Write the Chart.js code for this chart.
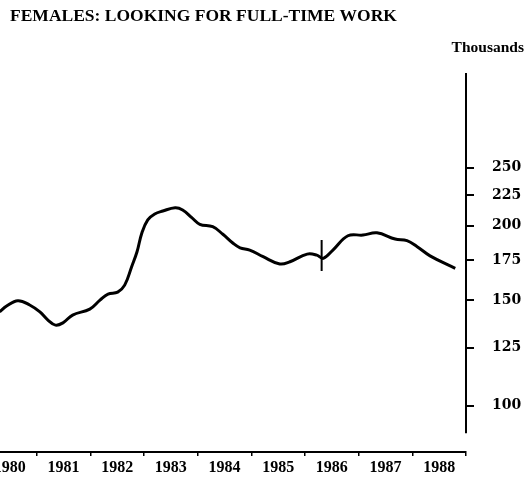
<!DOCTYPE html>
<html>
<head>
<meta charset="utf-8">
<script src="https://cdn.jsdelivr.net/npm/chart.js@4.4.1/dist/chart.umd.min.js"></script>
<style>
  html, body { margin: 0; padding: 0; background: #fff; overflow: hidden; }
  body { width: 527px; height: 477px; position: relative; }
  #wrap { position: absolute; left: -17px; top: 0; width: 544px; height: 477px; }
</style>
</head>
<body>
<div id="wrap"><canvas id="c" width="544" height="477"></canvas></div>
<script>
// ---- data ----
const titleText = "FEMALES: LOOKING FOR FULL-TIME WORK";
const unitText = "Thousands";
const years = [1980.31, 1980.44, 1980.65, 1980.87, 1981.06, 1981.21, 1981.35, 1981.49, 1981.67, 1981.99,
  1982.18, 1982.33, 1982.51, 1982.64, 1982.77, 1982.87, 1982.96, 1983.07, 1983.20, 1983.35,
  1983.58, 1983.72, 1983.89, 1984.04, 1984.28, 1984.47, 1984.66, 1984.79, 1984.97, 1985.22,
  1985.53, 1985.72, 1986.04, 1986.22, 1986.34, 1986.52, 1986.80, 1987.08, 1987.34, 1987.68,
  1987.90, 1988.09, 1988.33, 1988.80];
const femalesThousands = [143.6, 146.8, 149.8, 147.4, 143.5, 139.1, 136.4, 137.6, 141.8, 145.1,
  150.2, 153.7, 154.9, 159.1, 170.8, 180.9, 194.5, 204.5, 209.2, 211.6,
  214.3, 212.5, 206.3, 201.1, 199.2, 193.5, 186.9, 183.7, 182.1, 177.5,
  172.6, 174.1, 179.3, 178.6, 176.4, 182.1, 192.4, 192.9, 194.6, 190.0,
  188.8, 184.5, 178.1, 169.7];
const breakYear = 1986.31;
const breakRange = [168.0, 189.3];
const xTickYears = [1980, 1981, 1982, 1983, 1984, 1985, 1986, 1987, 1988, 1989];
const xLabels = ["1980", "1981", "1982", "1983", "1984", "1985", "1986", "1987", "1988", ""];
const yTickValues = [100, 125, 150, 175, 200, 225, 250];
const yAxisLineFrom = 90;

const mainData = years.map((x, i) => ({ x: x, y: femalesThousands[i] }));
const breakData = breakRange.map(v => ({ x: breakYear, y: v }));

const textPlugin = {
  id: 'texts',
  afterDraw(chart) {
    const ctx = chart.ctx;
    const ys = chart.scales.y;
    ctx.save();
    // partial vertical axis line
    ctx.strokeStyle = '#000';
    ctx.lineWidth = 2;
    ctx.beginPath();
    ctx.moveTo(chart.chartArea.right, ys.getPixelForValue(yAxisLineFrom));
    ctx.lineTo(chart.chartArea.right, chart.chartArea.top);
    ctx.stroke();
    // title and unit
    ctx.fillStyle = '#000';
    ctx.textBaseline = 'alphabetic';
    ctx.font = 'bold 17.5px "Liberation Serif"';
    ctx.textAlign = 'left';
    ctx.fillText(titleText, 27, 21);
    ctx.font = 'bold 15.5px "Liberation Serif"';
    ctx.textAlign = 'right';
    ctx.fillText(unitText, 541, 52);
    ctx.restore();
  }
};

new Chart(document.getElementById('c'), {
  type: 'line',
  data: {
    datasets: [
      { data: mainData, borderColor: '#000', borderWidth: 3, pointRadius: 0, tension: 0.4, fill: false },
      { data: breakData, borderColor: '#000', borderWidth: 2, pointRadius: 0, tension: 0, fill: false }
    ]
  },
  options: {
    responsive: false,
    animation: false,
    devicePixelRatio: 1,
    layout: { padding: { top: 73, left: 0, right: 0, bottom: 0 } },
    plugins: { legend: { display: false }, title: { display: false }, tooltip: { enabled: false } },
    scales: {
      x: {
        type: 'linear',
        position: 'bottom',
        min: 1980,
        max: 1989,
        afterBuildTicks(scale) { scale.ticks = xTickYears.map(v => ({ value: v })); },
        afterFit(scale) { scale.height = 25; scale.paddingLeft = 0; scale.paddingRight = 0; },
        border: { display: true, color: '#000', width: 2 },
        grid: { display: true, drawOnChartArea: false, drawTicks: true, tickLength: 4, color: '#000', lineWidth: 1.5 },
        ticks: {
          autoSkip: false,
          maxRotation: 0,
          minRotation: 0,
          padding: 2,
          labelOffset: 26.8,
          color: '#000',
          font: { family: '"Liberation Serif"', weight: 'bold', size: 16 },
          callback(value) { const i = xTickYears.indexOf(value); return i >= 0 ? xLabels[i] : ''; }
        }
      },
      y: {
        type: 'logarithmic',
        position: 'right',
        min: 83.7,
        max: 360,
        afterBuildTicks(scale) { scale.ticks = yTickValues.map(v => ({ value: v })); },
        afterFit(scale) { scale.width = 61; scale.paddingTop = 0; scale.paddingBottom = 0; },
        border: { display: false },
        grid: { display: true, drawOnChartArea: false, drawTicks: true, tickLength: 8, color: '#000', lineWidth: 2 },
        ticks: {
          autoSkip: false,
          padding: 18,
          color: '#000',
          font: { family: '"DejaVu Serif"', weight: 'bold', size: 14 },
          callback(value) { return String(value); }
        }
      }
    }
  },
  plugins: [textPlugin]
});
</script>
</body>
</html>
